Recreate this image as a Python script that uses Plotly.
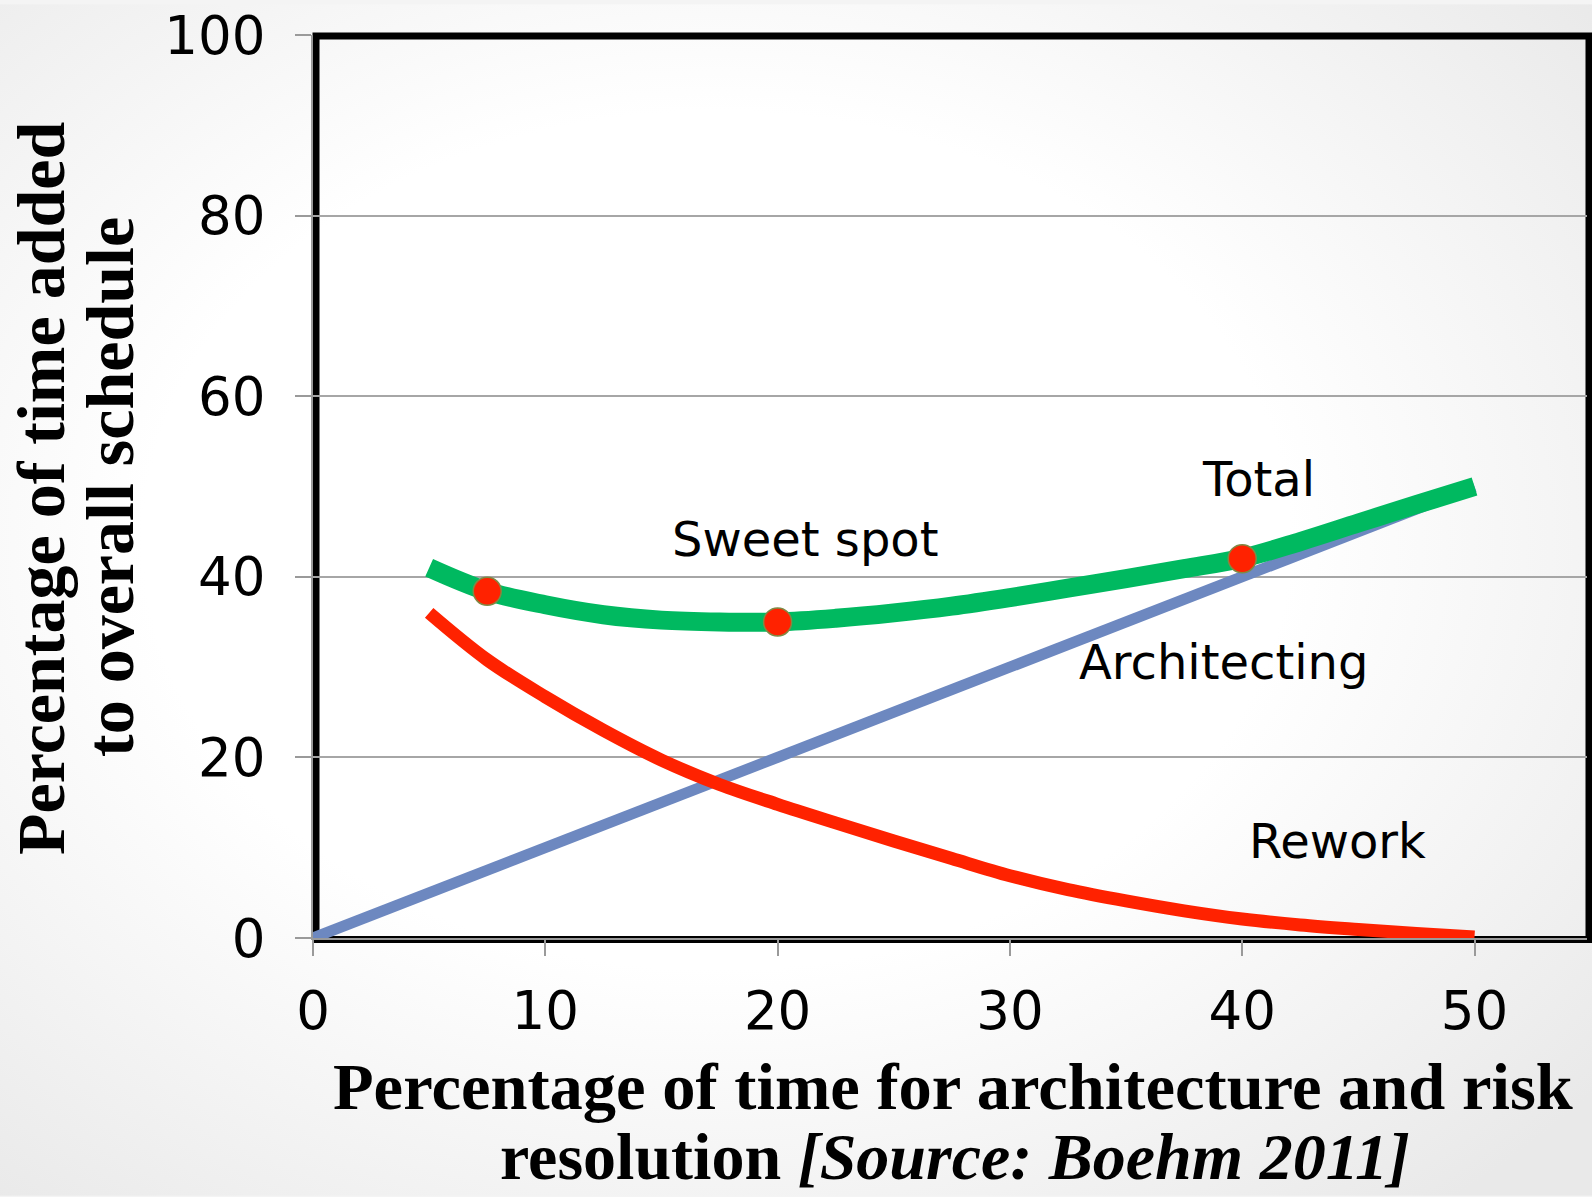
import base64
import plotly.graph_objects as go

# ---- data ----
arch_x = [0, 50]
arch_y = [0, 50]

curve_x = [5, 7.5, 10, 12.5, 15, 17.5, 20, 22.5, 25, 27.5, 30, 32.5, 35, 37.5, 40, 42.5, 45, 47.5, 50]
total_y = [41.0, 38.4, 36.9, 35.8, 35.2, 35.0, 35.0, 35.4, 36.0, 36.75, 37.7, 38.75, 39.8, 40.9, 42.05, 43.9, 45.95, 48.0, 50.0]
rework_y = [36.0, 30.8, 26.7, 23.0, 19.7, 17.0, 14.8, 12.75, 10.75, 8.8, 6.9, 5.35, 4.1, 3.0, 2.1, 1.45, 0.95, 0.5, 0.1]

spot_x = [7.5, 20, 40]
spot_y = [38.4, 35.0, 42.0]

x_ticks = [0, 10, 20, 30, 40, 50]
y_ticks = [0, 20, 40, 60, 80, 100]

labels = ["Sweet spot", "Total", "Architecting", "Rework"]
label_x = [21.2, 40.7, 39.2, 44.1]
label_y = [44.2, 50.8, 30.6, 10.7]

W, H = 1592, 1197
ML, MR, MT, MB = 313, 5, 31, 259
PW, PH = W - ML - MR, H - MT - MB

fig = go.Figure()
fig.add_trace(go.Scatter(x=arch_x, y=arch_y, mode="lines",
                         line=dict(color="#6d88c0", width=11), cliponaxis=False,
                         hoverinfo="skip", showlegend=False))
fig.add_trace(go.Scatter(x=curve_x, y=rework_y, mode="lines",
                         line=dict(color="#ff2200", width=13, shape="spline", smoothing=1),
                         cliponaxis=False, showlegend=False))
fig.add_trace(go.Scatter(x=curve_x, y=total_y, mode="lines",
                         line=dict(color="#00b960", width=19, shape="spline", smoothing=1),
                         cliponaxis=False, showlegend=False))
fig.add_trace(go.Scatter(x=spot_x, y=spot_y, mode="markers",
                         marker=dict(color="#ff2200", size=28,
                                     line=dict(color="#7f8a45", width=1.5)),
                         cliponaxis=False, showlegend=False))

for t, lx, ly in zip(labels, label_x, label_y):
    fig.add_annotation(x=lx, y=ly, xref="x", yref="y", text=t, showarrow=False,
                       font=dict(family="DejaVu Sans", size=48, color="#000000"),
                       xanchor="center", yanchor="middle")

serif = "Liberation Serif"
def px_x(p):
    return (p - ML) / PW
def px_y(p):
    return (H - MB - p) / PH

# x-axis title (two lines)
fig.add_annotation(x=px_x(953), y=px_y(1087), xref="paper", yref="paper",
                   text="<b>Percentage of time for architecture and risk</b>",
                   showarrow=False, xanchor="center", yanchor="middle",
                   font=dict(family=serif, size=66.5, color="#000000"))
fig.add_annotation(x=px_x(955), y=px_y(1157), xref="paper", yref="paper",
                   text="<b>resolution <i>[Source: Boehm 2011]</i></b>",
                   showarrow=False, xanchor="center", yanchor="middle",
                   font=dict(family=serif, size=66, color="#000000"))
# y-axis title (two lines, rotated)
fig.add_annotation(x=px_x(41), y=px_y(486), xref="paper", yref="paper",
                   text="<b>Percentage of time added</b>", textangle=-90,
                   showarrow=False, xanchor="center", yanchor="middle",
                   font=dict(family=serif, size=68, color="#000000"))
fig.add_annotation(x=px_x(110), y=px_y(485), xref="paper", yref="paper",
                   text="<b>to overall schedule</b>", textangle=-90,
                   showarrow=False, xanchor="center", yanchor="middle",
                   font=dict(family=serif, size=68, color="#000000"))

# frame
fig.add_shape(type="rect", xref="paper", yref="paper",
              x0=3 / PW, x1=1 + 2 / PW, y0=-1.5 / PH, y1=1 - 1 / PH,
              line=dict(color="#000000", width=7), layer="below")

# background gradient
svg = ('<svg xmlns="http://www.w3.org/2000/svg" width="1592" height="1197">'
       '<defs><radialGradient id="g" cx="45%" cy="45%" r="72%">'
       '<stop offset="0" stop-color="#ffffff"/><stop offset="0.5" stop-color="#ffffff"/>'
       '<stop offset="1" stop-color="#e9e9e9"/></radialGradient></defs>'
       '<rect width="100%" height="100%" fill="url(#g)"/></svg>')
uri = "data:image/svg+xml;base64," + base64.b64encode(svg.encode()).decode()
fig.add_layout_image(source=uri, xref="paper", yref="paper",
                     x=-ML / PW, y=1 + MT / PH, sizex=W / PW, sizey=H / PH,
                     xanchor="left", yanchor="top", sizing="stretch", layer="below")

tickfont = dict(family="DejaVu Sans", size=53, color="#000000")
fig.update_xaxes(range=[0, PW / 23.23], tickvals=x_ticks, ticks="outside", ticklen=16,
                 tickwidth=2, tickcolor="#9a9a9a", showline=True, linecolor="#9a9a9a",
                 linewidth=2, showgrid=False, zeroline=False, tickfont=tickfont,
                 ticklabelstandoff=9)
fig.update_yaxes(range=[0, 100], tickvals=y_ticks, ticks="outside", ticklen=16,
                 tickwidth=2, tickcolor="#9a9a9a", showline=True, linecolor="#9a9a9a",
                 linewidth=2, showgrid=True, gridcolor="#a6a6a6", gridwidth=2,
                 zeroline=False, tickfont=tickfont, ticklabelstandoff=19)

fig.update_layout(width=W, height=H, margin=dict(l=ML, r=MR, t=MT, b=MB),
                  paper_bgcolor="#f4f4f4", plot_bgcolor="rgba(0,0,0,0)",
                  showlegend=False)

fig.write_html("out.html", config={"displayModeBar": False},
               post_script="document.body.style.margin='0';"
                           "document.body.style.padding='0';"
                           "document.documentElement.style.overflow='hidden';")
